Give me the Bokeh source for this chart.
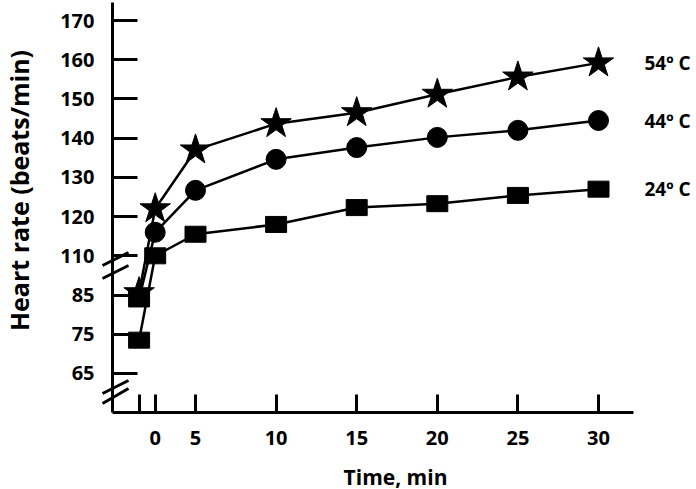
import math
from bokeh.plotting import figure
from bokeh.models import FixedTicker
from bokeh.core.properties import value
from bokeh.embed import file_html
from bokeh.resources import INLINE

# ---- data ----
time_min = [-2, 0, 5, 10, 15, 20, 25, 30]          # -2 = pre-exposure baseline
hr_24c = [73.5, 110, 115.5, 118, 122.3, 123.3, 125.4, 127]
hr_44c = [84, 116, 126.7, 134.6, 137.6, 140.2, 142, 144.5]
hr_54c = [85.6, 122, 137, 143.7, 146.5, 151.2, 155.6, 159.2]
series_labels = ["24º C", "44º C", "54º C"]
markers_24c = ["square"] * 8
markers_44c = ["square"] + ["circle"] * 7
markers_54c = ["star"] * 8

x_tick_values = [-2, 0, 5, 10, 15, 20, 25, 30]
x_tick_labels = ["", "0", "5", "10", "15", "20", "25", "30"]
y_tick_values = [65, 75, 85, 110, 120, 130, 140, 150, 160, 170]
y_tick_labels = ["65", "75", "85", "110", "120", "130", "140", "150", "160", "170"]
x_title = "Time, min"
y_title = "Heart rate (beats/min)"

# ---- broken-axis transforms ----
Y_BREAK = 100   # values below this are on the lower segment
Y_SHIFT = 15


def yt(v):
    return v + Y_SHIFT if v < Y_BREAK else v


def xt(t):
    return t * 0.5 if t <= 5 else t - 2.5


# ---- canvas calibration (pixel <-> plot units) ----
W, H = 696, 489
X0_PX, X_PX_PER_UNIT = 154.7, 16.12
Y170_PX, Y_PX_PER_UNIT = 20.0, 3.922


def px_x(px):
    return (px - X0_PX) / X_PX_PER_UNIT


def px_y(py):
    return 170 - (py - Y170_PX) / Y_PX_PER_UNIT


FONT = "Open Sans"

p = figure(width=W, height=H, output_backend="svg", toolbar_location=None,
           x_range=(px_x(0), px_x(W)), y_range=(px_y(H), px_y(0)),
           min_border=0)
p.background_fill_color = "white"
p.border_fill_color = "white"
p.outline_line_color = None
p.grid.visible = False

AX_X = px_x(112)      # y axis position
AX_Y = px_y(412)      # x axis position

for ax in (p.xaxis[0], p.yaxis[0]):
    ax.axis_line_width = 3
    ax.axis_line_color = "black"
    ax.major_tick_line_width = 3
    ax.major_tick_line_color = "black"
    ax.major_tick_out = 0
    ax.minor_tick_line_color = None
    ax.major_label_text_font = FONT
    ax.major_label_text_font_style = "bold"
    ax.major_label_text_font_size = "20px"
    ax.major_label_text_color = "black"

xa = p.xaxis[0]
xa.fixed_location = AX_Y
xa.bounds = (AX_X, px_x(633))
xa.ticker = FixedTicker(ticks=[xt(t) for t in x_tick_values])
xa.major_label_overrides = {float(xt(t)): lab for t, lab in zip(x_tick_values, x_tick_labels)}
xa.major_tick_in = 18
xa.major_label_standoff = 18

ya = p.yaxis[0]
ya.fixed_location = AX_X
ya.bounds = (AX_Y, px_y(2))
ya.ticker = FixedTicker(ticks=[yt(v) for v in y_tick_values])
ya.major_label_overrides = {float(yt(v)): lab for v, lab in zip(y_tick_values, y_tick_labels)}
ya.major_tick_in = 25
ya.major_label_standoff = 18

all_series = [(hr_24c, markers_24c), (hr_44c, markers_44c), (hr_54c, markers_54c)]

# lines
for vals, _ in all_series:
    p.line([xt(t) for t in time_min], [yt(v) for v in vals], line_color="black", line_width=2.5)

# markers: stars, then circles, then squares
for kind in ("star", "circle", "square"):
    for vals, marks in all_series:
        xs = [xt(t) for t, m in zip(time_min, marks) if m == kind]
        ys = [yt(v) for v, m in zip(vals, marks) if m == kind]
        if not xs:
            continue
        if kind == "square":
            p.rect(xs, ys, width=21, height=16, width_units="screen", height_units="screen",
                   fill_color="black", line_color="black")
        elif kind == "circle":
            p.scatter(xs, ys, marker="circle", size=20, fill_color="black", line_color="black")
        else:
            p.scatter(xs, ys, marker="star", size=32, fill_color="black", line_color="black")

# series labels at the right end
p.text(x=[xt(time_min[-1])] * 3, y=[yt(vals[-1]) for vals, _ in all_series], text=series_labels,
       x_offset=46, text_font=value(FONT), text_font_style="bold", text_font_size=value("19px"),
       text_baseline="middle", text_align="left", text_color="black")

# axis titles
p.text(x=[px_x(18)], y=[px_y(190)], text=[y_title], angle=math.pi / 2,
       text_font=value(FONT), text_font_style="bold", text_font_size=value("25px"),
       text_align="center", text_baseline="middle", text_color="black")
p.text(x=[px_x(395)], y=[px_y(476)], text=[x_title],
       text_font=value(FONT), text_font_style="bold", text_font_size=value("21px"),
       text_align="center", text_baseline="middle", text_color="black")

# axis-break marks on the y axis (pixel positions of the slashes)
break_px = [(102, 265, 128, 252), (102, 278, 128, 265),
            (102, 393, 128, 380), (102, 403, 128, 388)]
p.segment(x0=[px_x(b[0]) for b in break_px], y0=[px_y(b[1]) for b in break_px],
          x1=[px_x(b[2]) for b in break_px], y1=[px_y(b[3]) for b in break_px],
          line_color="black", line_width=3)

open("out.html", "w").write(file_html(p, INLINE))
